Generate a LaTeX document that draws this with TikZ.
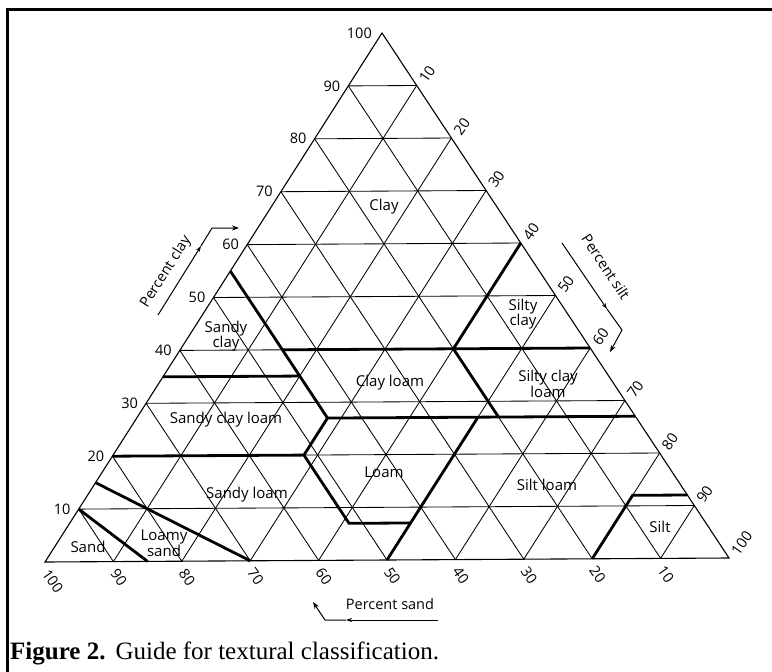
\documentclass[tikz,border=0pt]{standalone}
\usepackage{fontspec}
\setsansfont{Open Sans}
\newfontfamily\capfont{Liberation Serif}
\usetikzlibrary{arrows.meta}
\begin{document}
\begin{tikzpicture}[x=1pt,y=-1pt,
  gridline/.style={line width=0.85pt},
  outline/.style={line width=1.1pt,line join=miter},
  bound/.style={line width=2.8pt,line join=miter},
  lbl/.style={font=\sffamily\fontsize{15}{15.5}\selectfont,inner sep=0pt,align=center},
  tick/.style={font=\sffamily\fontsize{14.5}{16}\selectfont,inner sep=0pt},
  framel/.style={line width=3pt},
  axl/.style={line width=1pt},
  tipl/.style={-{Stealth[length=7pt,width=5pt]}},
  midtip/.style={-{Stealth[length=6pt,width=4pt]}}
]
\useasboundingbox (0,0) rectangle (772,672);
\fill[white] (0,0) rectangle (772,672);
% frame
\coordinate (f0) at (7.5,672);
\coordinate (f1) at (7.5,9.5);
\coordinate (f2) at (772,9.5);
\draw[framel] (f0) -- (f1) -- (f2);
% vertices
\coordinate (L) at (45,562);
\coordinate (R) at (729,558);
\coordinate (A) at (382,33);
% grid
\foreach \c in {10,20,...,90}{
  \pgfmathsetmacro\a{\c/100}
  \pgfmathsetmacro\r{1-\c/100}
  \draw[gridline] (barycentric cs:L=\r,R=0,A=\a) -- (barycentric cs:L=0,R=\r,A=\a);
  \draw[gridline] (barycentric cs:L=\a,R=\r,A=0) -- (barycentric cs:L=\a,R=0,A=\r);
  \draw[gridline] (barycentric cs:L=\r,R=\a,A=0) -- (barycentric cs:L=0,R=\a,A=\r);
}
\draw[outline] (L) -- (R) -- (A) -- cycle;
% boundaries
\coordinate (s1) at (barycentric cs:L=.90,R=0,A=.10);
\coordinate (s2) at (barycentric cs:L=.85,R=.15,A=0);
\coordinate (ls1) at (barycentric cs:L=.85,R=0,A=.15);
\coordinate (ls2) at (barycentric cs:L=.70,R=.30,A=0);
\coordinate (c20a) at (barycentric cs:L=.80,R=0,A=.20);
\coordinate (c20b) at (barycentric cs:L=.52,R=.28,A=.20);
\coordinate (c35a) at (barycentric cs:L=.65,R=0,A=.35);
\coordinate (c35b) at (barycentric cs:L=.45,R=.20,A=.35);
\coordinate (c55) at (barycentric cs:L=.45,R=0,A=.55);
\coordinate (c27a) at (barycentric cs:L=.45,R=.28,A=.27);
\coordinate (c27b) at (barycentric cs:L=0,R=.73,A=.27);
\coordinate (c7a) at (barycentric cs:L=.52,R=.41,A=.07);
\coordinate (c7b) at (barycentric cs:L=.43,R=.50,A=.07);
\coordinate (c40a) at (barycentric cs:L=.45,R=.15,A=.40);
\coordinate (c40b) at (barycentric cs:L=0,R=.60,A=.40);
\coordinate (c40m) at (barycentric cs:L=.20,R=.40,A=.40);
\coordinate (c60) at (barycentric cs:L=0,R=.40,A=.60);
\coordinate (s20b) at (barycentric cs:L=.20,R=.53,A=.27);
\coordinate (t50a) at (barycentric cs:L=.50,R=.50,A=0);
\coordinate (t50b) at (barycentric cs:L=.23,R=.50,A=.27);
\coordinate (t80a) at (barycentric cs:L=.20,R=.80,A=0);
\coordinate (t80b) at (barycentric cs:L=.08,R=.80,A=.12);
\coordinate (t80c) at (barycentric cs:L=0,R=.88,A=.12);
\draw[bound] (s1) -- (s2);
\draw[bound] (ls1) -- (ls2);
\draw[bound] (c20a) -- (c20b);
\draw[bound] (c35a) -- (c35b);
\draw[bound] (c55) -- (c27a) -- (c20b) -- (c7a) -- (c7b);
\draw[bound] (c40a) -- (c40b);
\draw[bound] (c40m) -- (c60);
\draw[bound] (c40m) -- (s20b);
\draw[bound] (c27a) -- (c27b);
\draw[bound] (t50a) -- (t50b);
\draw[bound] (t80a) -- (t80b) -- (t80c);
% clay ticks (left)
\foreach \c in {10,20,...,90}{
  \pgfmathsetmacro\a{\c/100}
  \pgfmathsetmacro\r{1-\c/100}
  \node[tick,anchor=east,xshift=-8pt] (cl\c) at (barycentric cs:L=\r,R=0,A=\a) {\c};
}
\node[tick,anchor=east,xshift=-10pt] (cl100) at (A) {100};
% silt ticks (right)
\foreach \c in {10,20,...,100}{
  \pgfmathsetmacro\a{\c/100}
  \pgfmathsetmacro\r{1-\c/100}
  \node[tick,xshift=5.5pt,yshift=4.5pt,rotate=55,anchor=west] (st\c) at (barycentric cs:L=0,R=\a,A=\r) {\c};
}
% sand ticks (bottom)
\foreach \c in {10,20,...,100}{
  \pgfmathsetmacro\a{\c/100}
  \pgfmathsetmacro\r{1-\c/100}
  \node[tick,xshift=0.5pt,yshift=-9pt,rotate=-55,anchor=west] (sd\c) at (barycentric cs:L=\a,R=\r,A=0) {\c};
}
% region labels
\node[lbl] (nclay) at (384,207) {Clay};
\node[lbl] (nsiltyclay) at (523,314) {Silty\\clay};
\node[lbl] (nsandyclay) at (226,336) {Sandy\\clay};
\node[lbl] (nclayloam) at (390,383) {Clay loam};
\node[lbl] (nscl) at (548,384) {Silty clay\\loam};
\node[lbl] (nsdcl) at (226,420) {Sandy clay loam};
\node[lbl] (nloam) at (384,472) {Loam};
\node[lbl] (nsandyloam) at (247,495) {Sandy loam};
\node[lbl] (nsiltloam) at (547,485) {Silt loam};
\node[lbl] (nsilt) at (660,527) {Silt};
\node[lbl] (nsand) at (88,547) {Sand};
\node[lbl] (nloamysand) at (164,543) {Loamy\\sand};
% axis titles
\node[tick,rotate=57.5] (tclay) at (166,272) {Percent clay};
\node[tick,rotate=-56.5] (tsilt) at (606,267) {Percent silt};
\node[tick] (tsand) at (390,604) {Percent sand};
% axis arrows
\coordinate (pc1) at (158,315);
\coordinate (pcm) at (201,246);
\coordinate (pc2) at (212,228);
\coordinate (pc3) at (239,228);
\draw[axl,midtip] (pc1) -- (pcm);
\draw[axl,tipl] (pcm) -- (pc2) -- (pc3);
\coordinate (ps1) at (562,243);
\coordinate (psm) at (607,309);
\coordinate (ps2) at (622,330);
\coordinate (ps3) at (610,352);
\draw[axl,midtip] (ps1) -- (psm);
\draw[axl,tipl] (psm) -- (ps2) -- (ps3);
\coordinate (pa1) at (438,620);
\coordinate (pam) at (346,620);
\coordinate (pa2) at (325,620);
\coordinate (pa3) at (313,602);
\draw[axl,midtip] (pa1) -- (pam);
\draw[axl,tipl] (pam) -- (pa2) -- (pa3);
% caption
\node[anchor=base west,inner sep=0pt,font=\capfont\fontsize{25}{27}\selectfont] (cap) at (10,659) {\textbf{Figure 2.}\hspace{0.4em}Guide for textural classification.};
\end{tikzpicture}
\end{document}
